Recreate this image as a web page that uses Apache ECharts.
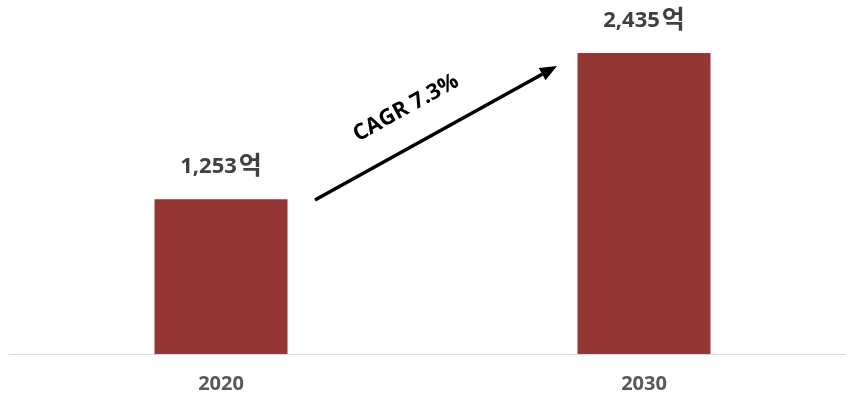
<!DOCTYPE html>
<html>
<head>
<meta charset="utf-8">
<script src="https://cdn.jsdelivr.net/npm/echarts@6/dist/echarts.min.js"></script>
<style>html,body{margin:0;padding:0;background:#fff;overflow:hidden;}#c{width:866px;height:394px;}</style>
</head>
<body>
<div id="c"></div>
<script>
const categories = ['2020', '2030'];
const values = [1253, 2435];
const unit = '억';
const cagrText = 'CAGR 7.3%';

const chart = echarts.init(document.getElementById('c'));
const ang = Math.atan2(134, 242);
const T = [557, 66];
const u = [Math.cos(ang), -Math.sin(ang)];
const n = [Math.sin(ang), Math.cos(ang)];
const B = [T[0] - 17 * u[0], T[1] - 17 * u[1]];
chart.setOption({
  animation: false,
  grid: { left: 9.5, width: 846, top: 45, bottom: 39, containLabel: false },
  xAxis: {
    type: 'category', data: categories,
    axisLine: { show: true, lineStyle: { color: '#d9d9d9', width: 1 } },
    axisTick: { show: false },
    axisLabel: { margin: 20, color: '#595959', fontSize: 20, fontWeight: 'bold', fontFamily: 'Open Sans, Noto Sans, sans-serif' }
  },
  yAxis: { type: 'value', min: 0, max: 2500, show: false, splitLine: { show: false } },
  series: [{
    type: 'bar', data: values, barWidth: 133,
    itemStyle: { color: '#943634' },
    label: {
      show: true, position: 'top', distance: 17,
      formatter: p => '{n|' + p.value.toLocaleString('en-US') + '}{u|' + unit + '}',
      rich: {
        n: { color: '#404040', fontSize: 22, fontWeight: 'bold', fontFamily: 'Open Sans, Noto Sans, sans-serif' },
        u: { color: '#404040', fontSize: 25, fontWeight: 'bold', fontFamily: 'Noto Sans CJK KR, sans-serif', padding: [0, 0, 5, 2] }
      }
    }
  }],
  graphic: [
    { type: 'line', shape: { x1: 315, y1: 200, x2: B[0], y2: B[1] }, style: { stroke: '#000', lineWidth: 3.5 } },
    { type: 'polygon', shape: { points: [T, [B[0] + 7 * n[0], B[1] + 7 * n[1]], [B[0] - 7 * n[0], B[1] - 7 * n[1]]] }, style: { fill: '#000' } },
    { type: 'text', x: 406, y: 108, rotation: ang,
      style: { text: cagrText, fill: '#000', font: 'bold 22px "Open Sans", sans-serif', textAlign: 'center', textVerticalAlign: 'middle' } }
  ]
});
</script>
</body>
</html>
